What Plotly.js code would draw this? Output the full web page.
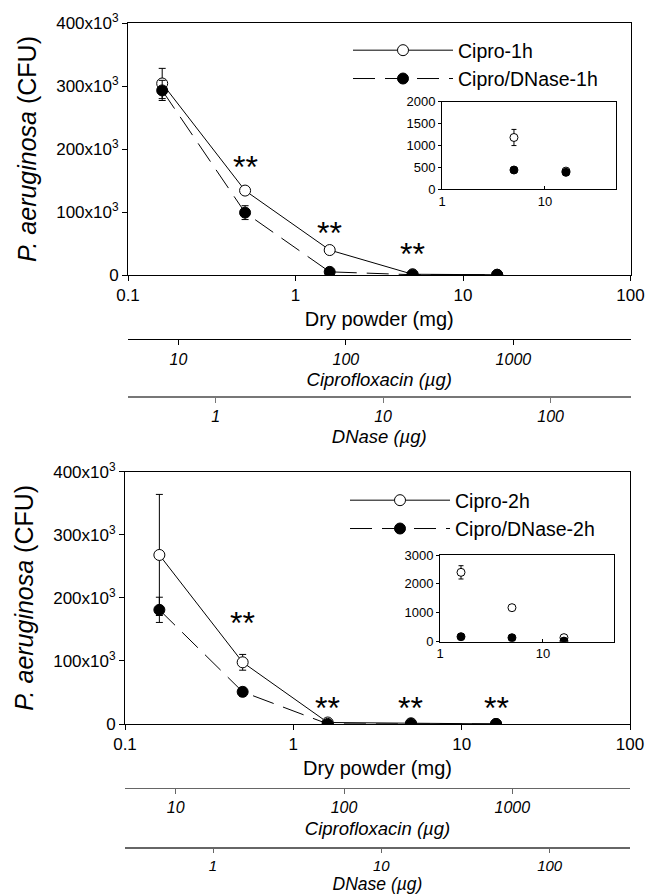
<!DOCTYPE html>
<html>
<head>
<meta charset="utf-8">
<script src="https://cdn.plot.ly/plotly-3.0.1.min.js"></script>
<style>html,body{margin:0;padding:0;background:#fff;}#chart{width:646px;height:895px;}</style>
</head>
<body>
<div id="chart"></div>
<script>
// ---------- data ----------
const dose = [0.16, 0.5, 1.6, 5, 16];              // dry powder (mg)
const cipro1h = [304000, 134000, 39600, 1180, 410];
const cipro1hErr = [24000, 5000, 2000, 185, 30];
const dnase1h = [293000, 99000, 5000, 435, 382];
const dnase1hErr = [16000, 11000, 1500, 40, 40];
const cipro2h = [268000, 97800, 2400, 1177, 140];
const cipro2hErr = [96000, 12500, 230, 60, 30];
const dnase2h = [181000, 51000, 173, 138, 20];
const dnase2hErr = [20000, 7000, 40, 30, 15];

const seriesNames1 = ['Cipro-1h', 'Cipro/DNase-1h'];
const seriesNames2 = ['Cipro-2h', 'Cipro/DNase-2h'];

const yTickVals = [0, 100000, 200000, 300000, 400000];
const yTickText = ['0', '100x10<sup>3</sup>', '200x10<sup>3</sup>', '300x10<sup>3</sup>', '400x10<sup>3</sup>'];
const doseTicks = [0.1, 1, 10, 100];
const doseTickText = ['0.1', '1', '10', '100'];
const ciproTicks = [10, 100, 1000];
const dnaseTicks = [1, 10, 100];
const insetXTicks = [1, 10];
const insetTopYTicks = [0, 500, 1000, 1500, 2000];
const insetBotYTicks = [0, 1000, 2000, 3000];

const ciproPerMg = 50;   // µg ciprofloxacin per mg powder
const dnasePerMg = 3;    // µg DNase per mg powder
const doseRange = [0.1, 100];
const insetXRange = [1, 49];

const sigTopX = [0.5, 1.6, 5];
const sigTopY = [171800, 66200, 32600];
const sigBotX = [0.5, 1.6, 5, 16];
const sigBotY = [159800, 25100, 25100, 25100];

// ---------- helpers ----------
const FONT = 'Liberation Sans, Arial, Helvetica, sans-serif';
const W = 646, H = 895;
const px = v => v / W;
const py = v => 1 - v / H;
const lg = v => Math.log10(v);

function series(x, y, err, name, filled, xa, ya, opts) {
  opts = opts || {};
  return {
    type: 'scatter', mode: opts.markersOnly ? 'markers' : 'lines+markers',
    x: x, y: y, name: name, xaxis: xa, yaxis: ya,
    showlegend: !!opts.legend, legend: opts.legend || 'legend',
    line: {color: '#000', width: 1, dash: filled ? '22px,10px' : 'solid'},
    marker: {size: opts.size || 11, color: filled ? '#000' : '#fff', line: {color: '#000', width: 1}},
    error_y: {type: 'data', array: err, visible: true, color: '#000', thickness: 1, width: opts.capw || 3.5},
    cliponaxis: true, hoverinfo: 'skip'
  };
}
function empty(xa, ya) {
  return {type: 'scatter', mode: 'markers', x: [], y: [], xaxis: xa, yaxis: ya, showlegend: false, hoverinfo: 'skip'};
}
function mainX(domain, anchor) {
  return {
    type: 'log', domain: domain, anchor: anchor, range: [lg(doseRange[0]), lg(doseRange[1])],
    tickvals: doseTicks, ticktext: doseTickText, ticks: 'outside', ticklen: 5, tickcolor: '#000',
    showline: true, linecolor: '#000', linewidth: 1, mirror: true, showgrid: false, zeroline: false,
    tickfont: {size: 17, family: FONT, color: '#000'},
    title: {text: 'Dry powder (mg)', font: {size: 20, family: FONT, color: '#000'}, standoff: 7}
  };
}
function mainY(domain, anchor) {
  return {
    domain: domain, anchor: anchor, range: [0, 400000],
    tickvals: yTickVals, ticktext: yTickText, ticks: 'outside', ticklen: 5, tickcolor: '#000',
    showline: true, linecolor: '#000', linewidth: 1, mirror: true, showgrid: false, zeroline: false,
    tickfont: {size: 17, family: FONT, color: '#000'},
    title: {text: '<i>P. aeruginosa</i> (CFU)', font: {size: 25, family: FONT, color: '#000'}, standoff: 12}
  };
}
function secX(over, pos, perMg, ticks, title, color, lw, o) {
  o = o || {};
  return {
    type: 'log', overlaying: over, anchor: 'free', position: pos, side: 'bottom',
    range: [lg(doseRange[0] * perMg), lg(doseRange[1] * perMg)],
    tickvals: ticks, ticktext: ticks.map(t => '<i>' + t + '</i>'),
    ticks: 'outside', ticklen: o.ticklen || 5, tickcolor: color,
    showline: true, linecolor: color, linewidth: lw, showgrid: false, zeroline: false,
    tickfont: {size: o.tickSize || 16, family: FONT, color: '#000'},
    title: {text: '<i>' + title + '</i>', font: {size: o.titleSize || 18.5, family: FONT, color: '#000'},
            standoff: o.standoff === undefined ? 6 : o.standoff}
  };
}
function insetX(domain, anchor) {
  return {
    type: 'log', domain: domain, anchor: anchor, range: [lg(insetXRange[0]), lg(insetXRange[1])],
    tickvals: insetXTicks, ticktext: insetXTicks.map(String), ticks: 'inside', ticklen: 3, tickcolor: '#000',
    showline: true, linecolor: '#000', linewidth: 1, mirror: true, showgrid: false, zeroline: false,
    tickfont: {size: 13, family: FONT, color: '#000'}
  };
}
function insetY(domain, anchor, ticks) {
  return {
    domain: domain, anchor: anchor, range: [0, ticks[ticks.length - 1]],
    tickvals: ticks, ticktext: ticks.map(String), ticks: 'outside', ticklen: 3, tickcolor: '#000',
    showline: true, linecolor: '#000', linewidth: 1, mirror: true, showgrid: false, zeroline: false,
    tickfont: {size: 13, family: FONT, color: '#000'}
  };
}

// ---------- traces ----------
const data = [
  // top panel
  series(dose, cipro1h, cipro1hErr, seriesNames1[0], false, 'x', 'y', {legend: 'legend'}),
  series(dose, dnase1h, dnase1hErr, seriesNames1[1], true, 'x', 'y', {legend: 'legend'}),
  empty('x2', 'y'), empty('x3', 'y'),
  series(dose, cipro1h, cipro1hErr, seriesNames1[0], false, 'x4', 'y2', {markersOnly: true, size: 8, capw: 2.5}),
  series(dose, dnase1h, dnase1hErr, seriesNames1[1], true, 'x4', 'y2', {markersOnly: true, size: 8, capw: 2.5}),
  // bottom panel
  series(dose, cipro2h, cipro2hErr, seriesNames2[0], false, 'x5', 'y3', {legend: 'legend2'}),
  series(dose, dnase2h, dnase2hErr, seriesNames2[1], true, 'x5', 'y3', {legend: 'legend2'}),
  empty('x6', 'y3'), empty('x7', 'y3'),
  series(dose, cipro2h, cipro2hErr, seriesNames2[0], false, 'x8', 'y4', {markersOnly: true, size: 8, capw: 2.5}),
  series(dose, dnase2h, dnase2hErr, seriesNames2[1], true, 'x8', 'y4', {markersOnly: true, size: 8, capw: 2.5})
];

const sigAnn = (xs, ys, xr, yr) => xs.map((x, i) => ({
  x: lg(x), y: ys[i], xref: xr, yref: yr, text: '**', showarrow: false,
  xanchor: 'center', yanchor: 'middle', font: {size: 32, family: FONT, color: '#000'}
}));

const topX = [px(128), px(630.5)], topY = [py(275), py(23)];
const botX = [px(125), px(630)], botY = [py(724), py(471.7)];

const legendBase = {
  xanchor: 'left', yanchor: 'top', bgcolor: 'rgba(0,0,0,0)', borderwidth: 0,
  font: {size: 19.5, family: FONT, color: '#000'}, itemwidth: 100, tracegroupgap: 0
};

const layout = {
  width: W, height: H, margin: {l: 0, r: 0, t: 0, b: 0},
  paper_bgcolor: '#fff', plot_bgcolor: '#fff',
  font: {family: FONT, color: '#000'},
  showlegend: true,
  legend: Object.assign({}, legendBase, {x: px(348), y: py(31)}),
  legend2: Object.assign({}, legendBase, {x: px(345), y: py(481)}),
  xaxis: mainX(topX, 'y'),
  yaxis: mainY(topY, 'x'),
  xaxis2: secX('x', py(339.3), ciproPerMg, ciproTicks, 'Ciprofloxacin (µg)', '#000', 1),
  xaxis3: secX('x', py(396), dnasePerMg, dnaseTicks, 'DNase (µg)', '#777', 1.6),
  xaxis4: insetX([px(442), px(616)], 'y2'),
  yaxis2: insetY([py(189), py(101.7)], 'x4', insetTopYTicks),
  xaxis5: mainX(botX, 'y3'),
  yaxis3: mainY(botY, 'x5'),
  xaxis6: secX('x5', py(787.7), ciproPerMg, ciproTicks, 'Ciprofloxacin (µg)', '#666', 1.5),
  xaxis7: secX('x5', py(847), dnasePerMg, dnaseTicks, 'DNase (µg)', '#666', 1.5,
               {ticklen: 4, tickSize: 15, titleSize: 17.5, standoff: 1}),
  xaxis8: insetX([px(440), px(614)], 'y4'),
  yaxis4: insetY([py(641.7), py(555)], 'x8', insetBotYTicks),
  annotations: sigAnn(sigTopX, sigTopY, 'x', 'y').concat(sigAnn(sigBotX, sigBotY, 'x5', 'y3'))
};

Plotly.newPlot('chart', data, layout, {staticPlot: true, displayModeBar: false});
</script>
</body>
</html>
